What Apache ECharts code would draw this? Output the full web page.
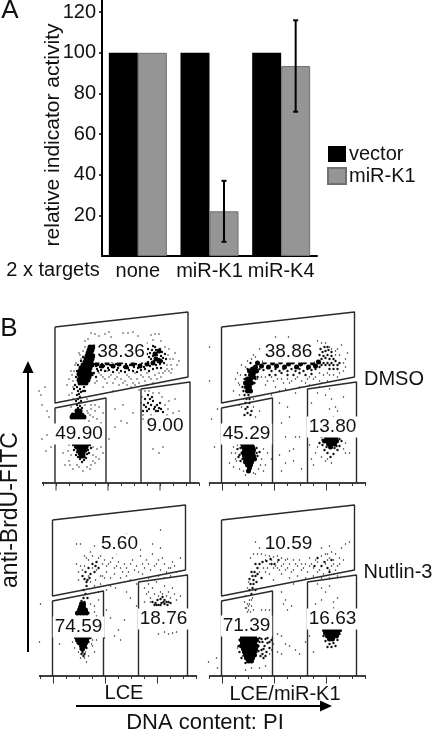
<!DOCTYPE html>
<html>
<head>
<meta charset="utf-8">
<title>miR-K1 indicator activity and cell cycle</title>
<script src="https://cdn.jsdelivr.net/npm/echarts@6/dist/echarts.min.js"></script>
<style>
  html, body { margin: 0; padding: 0; background: #fff; }
  #chart { width: 433px; height: 730px; }
</style>
</head>
<body>
<div id="chart"></div>
<script>
const FONT = '"Liberation Sans", Arial, sans-serif'

// panel A
const targets = ['none', 'miR-K1', 'miR-K4']
const vectorValues = [100, 100, 100]
const mirK1Values = [100, 22, 93.5]
const errorBars = [[1, 7, 37], [2, 71, 116]] // category index, low, high
const yTicksMax = 126

// panel B, gates (x, y on the FACS axes)
const gateS = [[12, 156], [145, 171], [145, 106], [12, 80], [12, 156]]
const gateG1 = [[12, 0], [12, 75], [63, 85], [63, 0]]
const gateG2 = [[98, 0], [98, 94], [147, 101], [147, 0]]
const majorTicks = [13, 65, 117]
const axisStub = [[-3, 0], [0, 0]]

const labelsDmsoLce = [[78, 131, '38.36'], [36, 49, '49.90'], [122, 57, '9.00']]
const labelsDmsoK1 = [[79, 131, '38.86'], [37, 49, '45.29'], [123, 56, '13.80']]
const labelsNutLce = [[79, 132, '5.60'], [38, 49, '74.59'], [123, 57, '18.76']]
const labelsNutK1 = [[79, 132, '10.59'], [37, 50, '71.39'], [123, 57, '16.63']]

// cell events; big = solid clumps, mid = dense, dots = sparse
const bigDmsoLce = [[37,100],[40,100],[43,100],[36,103],[39,103],[42,103],[45,103],[37,106],[40,106],[43,106],[46,106],[36,109],[39,109],[42,109],[45,109],[48,109],[37,112],[40,112],[43,112],[46,112],[38,115],[41,115],[44,115],[47,115],[40,118],[43,118],[46,118],[49,118],[42,121],[45,121],[48,121],[43,124],[46,124],[49,124],[44,127],[47,127],[50,127],[45,130],[48,130],[46,133],[49,133],[47,136],[50,136],[54,119],[59,117],[64,120],[70,117],[76,119],[83,116],[90,119],[97,117],[104,119],[110,120],[113,124],[117,122],[112,129],[116,132],[30,68],[33,68],[36,68],[39,68],[29,66],[32,66],[35,66],[38,66],[41,66],[34,72],[37,72],[33,39],[36,39],[39,39],[42,39],[45,39],[34,36],[37,36],[40,36],[43,36],[36,33],[39,33],[42,33],[37,30],[40,30],[38,27],[40,27]]
const midDmsoLce = [[51,119],[53,117],[55,120],[57,116],[59,119],[61,117],[63,120],[65,115],[67,118],[69,121],[71,116],[73,119],[75,115],[77,118],[79,120],[81,116],[83,119],[85,115],[87,118],[89,120],[91,116],[93,119],[95,115],[97,118],[99,120],[101,116],[103,119],[105,121],[107,117],[109,120],[111,122],[113,118],[115,121],[117,119],[119,122],[121,120],[123,124],[54,114],[58,113],[62,112],[66,113],[70,111],[74,113],[78,112],[82,111],[86,113],[90,112],[94,111],[98,113],[102,114],[106,112],[110,114],[114,115],[118,115],[106,126],[108,124],[110,127],[112,125],[114,128],[116,124],[118,127],[120,125],[107,130],[109,133],[111,130],[113,133],[115,131],[117,134],[119,131],[110,137],[112,136],[105,134],[104,129],[122,129],[34,96],[37,94],[35,92],[38,91],[36,89],[34,88],[37,86],[35,84],[33,82],[36,80],[38,82],[34,78],[37,77],[35,75],[33,73],[39,75],[31,94],[41,96],[42,92],[32,98],[33,106],[34,112],[35,118],[38,122],[40,126],[51,110],[53,106],[55,112],[40,92],[102,84],[105,80],[108,78],[110,82],[112,76],[114,78],[116,75],[106,74],[103,76],[118,74],[109,86],[113,72],[101,78],[104,72],[107,84],[111,74],[115,72],[117,80],[105,88],[100,72],[120,71],[30,38],[47,38],[32,36],[45,33],[44,29],[34,31],[37,24],[41,23],[39,21],[31,33],[48,35],[33,28],[46,30],[35,26],[43,25]]
const dotsDmsoLce = [[48,150],[52,149],[56,147],[62,149],[66,151],[68,146],[80,150],[85,150],[90,151],[95,147],[108,148],[112,149],[116,149],[42,142],[45,144],[36,130],[38,124],[32,118],[28,112],[26,104],[24,98],[30,96],[50,108],[56,110],[60,106],[64,112],[68,108],[72,104],[76,110],[80,100],[84,108],[88,104],[92,110],[96,100],[100,106],[104,110],[108,104],[112,108],[116,110],[120,110],[124,114],[128,118],[130,124],[134,118],[136,122],[132,130],[126,134],[122,136],[128,110],[118,142],[110,143],[104,140],[60,96],[70,92],[84,98],[96,93],[52,100],[4,72],[-2,88],[-4,92],[2,96],[-1,78],[6,66],[44,84],[48,74],[52,78],[56,76],[60,70],[46,62],[54,64],[58,60],[20,30],[26,22],[22,18],[50,28],[54,34],[58,36],[50,22],[56,24],[48,18],[60,30],[30,14],[44,16],[36,16],[26,38],[66,44],[72,56],[78,62],[84,60],[90,70],[72,74],[80,78],[100,64],[102,92],[116,90],[126,82],[132,84],[136,72],[130,70],[124,68],[110,34],[116,30],[120,36],[-1,44],[4,48],[8,36],[3,32],[58,108],[62,104],[66,106],[70,100],[74,106],[78,104],[82,102],[86,106],[90,100],[94,104],[98,108],[102,102],[106,106],[110,100],[114,104],[118,106],[122,112],[126,112],[124,118],[127,124],[125,128],[129,114],[64,100],[76,98],[88,96],[92,98],[104,98],[54,102],[30,102],[29,108],[31,112],[33,120],[37,128],[40,132],[42,136],[52,138],[28,76],[30,84],[29,90],[26,88],[44,72],[47,68],[50,66],[48,78],[42,78],[45,70],[52,72],[106,92],[110,90],[99,86],[98,80],[119,86],[122,78],[125,74],[108,68],[112,66],[100,68],[28,28],[25,32],[27,18],[52,20],[53,26],[47,14],[40,12],[34,18],[50,36]]

const bigDmsoK1 = [[40,112],[43,114],[46,116],[41,108],[44,110],[47,112],[38,104],[41,104],[44,106],[36,100],[39,100],[42,100],[37,96],[40,96],[38,92],[41,92],[48,120],[52,117],[55,121],[59,116],[63,120],[67,117],[71,121],[75,116],[79,119],[83,121],[87,116],[91,119],[95,121],[99,116],[103,120],[106,117],[109,121],[33,39],[36,39],[39,39],[42,39],[34,36],[37,36],[40,36],[43,36],[35,33],[38,33],[41,33],[44,33],[34,30],[37,30],[40,30],[43,30],[35,27],[38,27],[41,27],[44,27],[36,24],[39,24],[42,24],[45,24],[36,21],[39,21],[42,21],[38,18],[41,18],[40,15],[39,12],[117,45],[120,45],[123,45],[126,45],[115,42],[118,42],[121,42],[124,42],[127,42],[119,39],[122,39],[125,39],[121,36]]
const midDmsoK1 = [[50,114],[54,113],[58,115],[62,112],[66,114],[70,112],[74,114],[78,112],[82,114],[86,112],[90,114],[94,112],[98,114],[102,113],[106,114],[110,116],[108,122],[110,120],[112,118],[114,120],[116,118],[118,120],[120,118],[122,120],[124,118],[112,124],[114,127],[116,125],[118,128],[120,124],[122,127],[124,124],[126,122],[110,128],[113,131],[116,132],[119,133],[111,134],[115,136],[118,136],[122,131],[128,118],[130,120],[120,114],[124,114],[128,114],[60,108],[66,108],[72,110],[78,108],[84,108],[90,110],[96,108],[102,109],[35,88],[37,84],[39,88],[36,80],[38,76],[40,80],[36,74],[38,70],[41,68],[35,68],[40,84],[42,72],[34,92],[33,96],[45,100],[46,104],[48,106],[36,108],[35,104],[38,114],[41,120],[30,40],[28,34],[29,26],[31,22],[47,35],[48,27],[50,31],[32,30],[30,28],[31,35],[33,24],[47,30],[112,46],[116,47],[128,46],[132,42],[113,38],[130,37],[115,33],[128,33],[118,30],[124,29],[121,26],[110,40],[113,43],[130,44],[117,36],[125,35],[127,37]]
const dotsDmsoK1 = [[66,146],[79,146],[50,134],[44,128],[38,122],[32,118],[28,110],[26,104],[30,98],[24,92],[48,104],[56,106],[64,102],[72,104],[80,100],[88,106],[96,100],[104,104],[112,100],[120,108],[128,106],[134,112],[136,124],[130,128],[126,132],[120,136],[112,140],[108,142],[128,134],[132,138],[138,130],[86,90],[70,92],[62,88],[-0,136],[0,102],[2,64],[8,74],[30,78],[44,76],[46,66],[50,72],[70,80],[78,76],[72,60],[80,66],[86,46],[90,46],[76,46],[84,34],[70,28],[76,20],[84,22],[92,14],[62,24],[72,12],[80,32],[100,38],[102,24],[104,18],[108,90],[116,88],[122,84],[126,76],[120,74],[124,66],[128,72],[134,86],[102,80],[24,36],[22,30],[26,24],[20,20],[24,16],[54,40],[58,30],[56,18],[54,12],[30,14],[36,8],[44,10],[116,22],[122,20],[106,30],[136,40],[140,30],[5,36],[52,106],[58,102],[62,106],[68,104],[74,100],[78,104],[82,102],[86,104],[92,102],[98,104],[100,106],[106,106],[110,110],[114,108],[118,110],[124,108],[130,110],[134,120],[136,116],[126,128],[122,134],[116,140],[46,126],[42,124],[36,116],[31,108],[29,100],[56,98],[66,96],[76,94],[90,96],[100,98],[110,102],[118,102],[34,84],[32,76],[44,84],[30,88],[26,30],[27,22],[28,38],[52,24],[54,34],[51,18],[49,14],[34,12],[46,9],[118,24],[112,26],[134,34],[136,30],[108,36],[120,94],[110,96]]

const bigNutLce = [[41,72],[43,72],[40,69],[43,69],[39,66],[42,66],[45,66],[37,63],[40,63],[43,63],[46,63],[36,39],[39,39],[42,39],[45,39],[48,39],[37,36],[40,36],[43,36],[46,36],[39,33],[42,33],[45,33],[41,30],[44,30],[42,27]]
const midNutLce = [[36,62],[48,63],[41,75],[35,38],[50,38],[37,33],[48,34],[40,27],[46,28],[42,24],[44,22],[43,20],[41,22],[112,74],[115,73],[118,71],[121,73],[124,72],[127,71],[117,76],[120,77],[124,76],[122,79],[128,74],[130,73],[114,71],[116,71],[120,71],[123,74],[126,74],[42,100],[45,104],[48,108],[44,97],[47,96],[50,102],[52,112],[56,114],[58,108],[54,104],[46,90],[43,86],[45,82],[47,78],[43,78],[46,94],[49,98],[55,110],[44,74]]
const dotsNutLce = [[40,132],[36,132],[54,130],[50,124],[52,120],[46,118],[60,120],[64,116],[68,112],[72,118],[76,110],[80,108],[84,112],[88,104],[92,116],[96,110],[100,120],[104,108],[108,112],[112,122],[116,112],[120,106],[124,112],[128,108],[132,114],[136,104],[140,118],[120,128],[112,132],[100,126],[88,124],[76,122],[62,100],[66,104],[70,98],[74,102],[80,98],[86,100],[90,96],[96,92],[102,102],[108,98],[114,96],[118,100],[124,98],[130,100],[40,110],[38,104],[36,112],[55,96],[60,92],[72,140],[86,142],[120,146],[75,88],[86,84],[90,78],[96,70],[100,66],[84,56],[78,46],[74,40],[80,36],[66,66],[70,58],[62,50],[64,38],[54,70],[58,76],[56,60],[60,52],[56,44],[52,30],[54,24],[56,36],[-0,72],[-1,34],[19,32],[44,18],[48,20],[40,18],[46,14],[108,92],[112,88],[116,94],[120,84],[124,90],[128,84],[132,88],[106,82],[110,78],[118,80],[136,76],[140,80],[124,44],[128,42],[132,43],[136,44],[118,42],[44,120],[48,116],[52,108],[58,118],[62,112],[66,110],[70,114],[74,108],[78,114],[82,104],[86,108],[90,112],[94,106],[98,104],[102,112],[106,116],[110,106],[114,110],[118,116],[122,118],[126,104],[130,108],[134,110],[56,106],[60,100],[64,98],[48,100],[42,106],[44,110],[38,96],[50,94],[54,90],[58,84],[66,86],[70,90],[50,72],[54,64],[52,58],[34,28],[32,34],[52,36],[51,32],[38,24],[45,24],[104,88],[108,84],[114,82],[122,82],[126,80],[130,78],[134,82],[110,74],[104,74]]

const bigNutK1 = [[33,39],[36,39],[39,39],[42,39],[45,39],[32,36],[35,36],[38,36],[41,36],[44,36],[47,36],[33,33],[36,33],[39,33],[42,33],[45,33],[32,30],[35,30],[38,30],[41,30],[44,30],[47,30],[34,27],[37,27],[40,27],[43,27],[46,27],[35,24],[38,24],[41,24],[44,24],[36,21],[39,21],[42,21],[45,21],[37,18],[40,18],[43,18],[39,15],[42,15],[115,46],[118,46],[121,46],[124,46],[127,46],[130,46],[116,43],[119,43],[122,43],[125,43],[128,43],[118,40],[121,40],[124,40],[127,40],[120,37],[123,37]]
const midNutK1 = [[50,38],[53,34],[56,37],[49,30],[52,26],[55,30],[58,33],[60,28],[57,24],[51,20],[54,18],[62,36],[47,24],[30,36],[29,30],[30,24],[32,18],[36,13],[50,34],[52,37],[54,27],[58,38],[60,34],[56,20],[49,25],[53,22],[114,40],[130,42],[116,35],[128,36],[120,32],[124,33],[122,29],[118,29],[126,30],[43,100],[45,104],[48,108],[44,96],[47,94],[41,92],[43,88],[46,86],[42,82],[40,86],[46,112],[50,112],[48,102],[52,98],[42,104],[40,97],[44,92],[46,100],[53,114],[57,115],[61,117],[65,112],[69,116],[62,112],[112,110],[115,114],[118,108],[105,110],[108,118],[122,116],[120,104]]
const dotsNutK1 = [[46,134],[50,128],[41,118],[44,122],[48,122],[52,122],[56,121],[60,120],[64,119],[68,120],[72,118],[78,117],[56,116],[60,112],[64,108],[68,114],[72,110],[76,106],[80,112],[84,116],[88,110],[92,106],[96,112],[100,118],[104,108],[108,114],[112,120],[116,112],[120,106],[124,116],[128,110],[104,126],[112,128],[118,122],[122,124],[126,122],[130,118],[134,116],[132,128],[136,132],[140,134],[120,130],[72,102],[80,98],[88,100],[96,98],[104,100],[112,98],[120,98],[128,100],[60,102],[56,104],[64,96],[40,76],[38,72],[42,70],[37,68],[41,64],[43,78],[39,66],[52,66],[56,66],[60,66],[72,84],[76,76],[82,70],[78,66],[84,92],[74,72],[68,42],[72,40],[76,32],[80,30],[68,24],[72,22],[86,26],[90,22],[96,34],[100,40],[104,24],[108,92],[112,88],[116,84],[120,90],[124,74],[128,78],[124,68],[120,66],[130,66],[112,76],[106,72],[116,62],[126,62],[-1,14],[7,18],[8,8],[36,6],[42,8],[50,8],[56,10],[62,116],[66,110],[70,106],[74,112],[78,108],[82,104],[86,112],[90,116],[94,108],[98,104],[102,112],[106,116],[110,106],[114,102],[118,116],[122,110],[126,106],[130,112],[116,122],[120,118],[124,112],[108,104],[100,110],[92,112],[84,106],[76,116],[68,108],[58,108],[54,108],[50,104],[39,94],[38,88],[36,80],[35,74],[39,70],[42,76],[44,66],[38,64],[40,72],[36,68],[34,26],[28,28],[33,20],[60,22],[64,32],[62,26]]

const panels = [
  { left: 43, baseline: 483, stub: true, gates: [gateS, gateG1, gateG2], labels: labelsDmsoLce, big: bigDmsoLce, mid: midDmsoLce, dots: dotsDmsoLce },
  { left: 209.5, baseline: 483, stub: false, gates: [gateS, gateG1, gateG2], labels: labelsDmsoK1, big: bigDmsoK1, mid: midDmsoK1, dots: dotsDmsoK1 },
  { left: 40.5, baseline: 676, stub: true, gates: [gateS, gateG1, gateG2], labels: labelsNutLce, big: bigNutLce, mid: midNutLce, dots: dotsNutLce },
  { left: 209.5, baseline: 676, stub: false, gates: [gateS, gateG1, gateG2], labels: labelsNutK1, big: bigNutK1, mid: midNutK1, dots: dotsNutK1 },
]

const grids = [{ left: 102, top: 0, width: 215, height: 256 }]
const xAxes = [{
  type: 'category',
  gridIndex: 0,
  data: targets,
  axisLine: { lineStyle: { color: '#000', width: 2 } },
  axisTick: { length: 3, lineStyle: { color: '#000', width: 1.5 } },
  axisLabel: { color: '#111', fontFamily: FONT, fontSize: 20, margin: 5, interval: 0 },
}]
const yAxes = [{
  type: 'value',
  gridIndex: 0,
  min: 0,
  max: yTicksMax,
  interval: 20,
  splitLine: { show: false },
  axisLine: { show: true, lineStyle: { color: '#000', width: 2 } },
  axisTick: { show: true, length: 3, lineStyle: { color: '#000', width: 1.5 } },
  axisLabel: { color: '#111', fontFamily: FONT, fontSize: 20, margin: 6, showMinLabel: false, showMaxLabel: false },
}]

const series = [
  {
    name: 'vector',
    type: 'bar',
    xAxisIndex: 0,
    yAxisIndex: 0,
    data: vectorValues,
    barWidth: 29,
    barGap: 0,
    itemStyle: { color: '#000' },
  },
  {
    name: 'miR-K1',
    type: 'bar',
    xAxisIndex: 0,
    yAxisIndex: 0,
    data: mirK1Values,
    barWidth: 29,
    itemStyle: { color: '#959595', borderColor: '#707070', borderWidth: 1 },
  },
  {
    type: 'custom',
    xAxisIndex: 0,
    yAxisIndex: 0,
    data: errorBars,
    z: 5,
    renderItem(params, api) {
      const low = api.coord([api.value(0), api.value(1)])
      const high = api.coord([api.value(0), api.value(2)])
      const x = low[0] + 14.5
      const style = { stroke: '#000', lineWidth: 2 }
      return {
        type: 'group',
        children: [
          { type: 'line', shape: { x1: x, y1: low[1], x2: x, y2: high[1] }, style },
          { type: 'line', shape: { x1: x - 2.5, y1: low[1], x2: x + 2.5, y2: low[1] }, style },
          { type: 'line', shape: { x1: x - 2.5, y1: high[1], x2: x + 2.5, y2: high[1] }, style },
        ],
      }
    },
  },
]

panels.forEach((p, i) => {
  const idx = i + 1
  grids.push({ left: p.left, top: p.baseline - 172, width: 156, height: 172 })
  xAxes.push({
    type: 'value',
    gridIndex: idx,
    min: 0,
    max: 156,
    interval: 13,
    splitLine: { show: false },
    axisLine: { lineStyle: { color: '#000', width: 1.5 } },
    axisTick: { length: 3, lineStyle: { color: '#333', width: 1 } },
    axisLabel: { show: false },
  })
  yAxes.push({ type: 'value', gridIndex: idx, min: 0, max: 172, show: false })

  const common = { xAxisIndex: idx, yAxisIndex: idx, silent: true, clip: false }
  const tiers = [[p.dots, 1.5, '#222'], [p.mid, 2.4, '#111'], [p.big, 5, '#000']]
  tiers.forEach(([data, size, color]) => {
    series.push({ ...common, type: 'scatter', data, symbolSize: size, itemStyle: { color, opacity: 1 }, z: 2 })
  })
  p.gates.forEach((g) => {
    series.push({ ...common, type: 'line', data: g, showSymbol: false, lineStyle: { color: '#2a2a2a', width: 1.4 }, z: 3 })
  })
  series.push({
    ...common,
    type: 'scatter',
    data: majorTicks.map(t => [t, 0]),
    symbol: 'rect',
    symbolSize: [1, 7],
    symbolOffset: [0, 4],
    itemStyle: { color: '#333', opacity: 1 },
    z: 3,
  })
  if (p.stub) {
    series.push({ ...common, type: 'line', data: axisStub, showSymbol: false, lineStyle: { color: '#000', width: 1.5 }, z: 3 })
  }
  series.push({
    ...common,
    type: 'scatter',
    data: p.labels,
    symbolSize: 0,
    z: 6,
    itemStyle: { opacity: 1 },
    label: {
      show: true,
      position: 'inside',
      formatter: o => o.value[2],
      color: '#111',
      opacity: 1,
      fontFamily: FONT,
      fontSize: 19,
      backgroundColor: '#fff',
      padding: [1, 2],
    },
  })
})

function text(str, x, y, size, extra) {
  return {
    type: 'text',
    x,
    y,
    z: 10,
    ...extra,
    style: {
      text: str,
      fill: '#111',
      font: `${size}px ${FONT}`,
      textAlign: 'center',
      textVerticalAlign: 'middle',
    },
  }
}

const graphics = [
  text('A', 10, 11, 26),
  text('B', 9, 329, 26),
  text('2 x targets', 53, 270, 20),
  text('relative indicator activity', 53, 135, 21, { rotation: Math.PI / 2 }),
  text('DMSO', 394, 379, 20),
  text('Nutlin-3', 398, 572, 20),
  text('LCE', 124, 693, 20),
  text('LCE/miR-K1', 285, 694, 20),
  text('DNA content: PI', 205, 723, 22),
  text('anti-BrdU-FITC', 11, 510, 23, { rotation: Math.PI / 2 }),
  // BrdU arrow
  { type: 'line', z: 9, shape: { x1: 28, y1: 370, x2: 28, y2: 652 }, style: { stroke: '#000', lineWidth: 2 } },
  { type: 'polygon', z: 9, shape: { points: [[28, 361], [33.5, 373], [22.5, 373]] }, style: { fill: '#000' } },
  // DNA content arrow
  { type: 'line', z: 9, shape: { x1: 76, y1: 706, x2: 322, y2: 706 }, style: { stroke: '#000', lineWidth: 2 } },
  { type: 'polygon', z: 9, shape: { points: [[332, 706], [320, 700.5], [320, 711.5]] }, style: { fill: '#000' } },
]

const chart = echarts.init(document.getElementById('chart'), null, { renderer: 'canvas' })
chart.setOption({
  animation: false,
  backgroundColor: '#fff',
  textStyle: { fontFamily: FONT },
  grid: grids,
  xAxis: xAxes,
  yAxis: yAxes,
  legend: {
    data: [{ name: 'vector', icon: 'rect' }, { name: 'miR-K1', icon: 'rect' }],
    orient: 'vertical',
    left: 327,
    top: 144,
    itemWidth: 18,
    itemHeight: 16,
    itemGap: 2,
    selectedMode: false,
    textStyle: { color: '#111', fontFamily: FONT, fontSize: 20, padding: [0, 0, 0, -2] },
    padding: 0,
  },
  series,
  graphic: graphics,
})
</script>
</body>
</html>
